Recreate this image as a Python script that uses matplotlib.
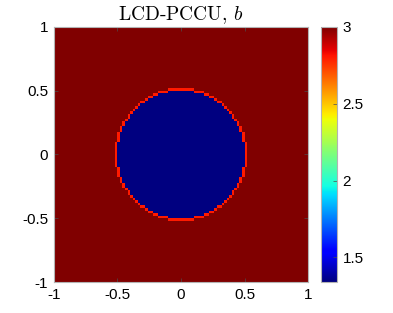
import numpy as np
import matplotlib
matplotlib.use('Agg')
import matplotlib.pyplot as plt

# field parameters
n_cells = 100
radius = 0.5
b_inside = 1.34
b_outside = 3.0
b_edge = 2.8
x_ticks = [-1, -0.5, 0, 0.5, 1]
y_ticks = [-1, -0.5, 0, 0.5, 1]
cbar_ticks = [1.5, 2, 2.5, 3]
cbar_labels = ['1.5', '2', '2.5', '3']

edges = np.linspace(-1, 1, n_cells + 1)
centers = 0.5 * (edges[:-1] + edges[1:])
X, Y = np.meshgrid(centers, centers)
inside = np.hypot(X, Y) < radius

# one-cell ring just outside the disc
ring = np.zeros_like(inside)
ring[1:, :] |= inside[:-1, :]
ring[:-1, :] |= inside[1:, :]
ring[:, 1:] |= inside[:, :-1]
ring[:, :-1] |= inside[:, 1:]
ring &= ~inside

b = np.full(X.shape, b_outside)
b[ring] = b_edge
b[inside] = b_inside

plt.rcParams['font.family'] = ['Liberation Sans', 'DejaVu Sans']
plt.rcParams['mathtext.fontset'] = 'cm'

fig = plt.figure(figsize=(3.93, 3.13), dpi=100)
ax = fig.add_axes([0.137, 0.099, 0.647, 0.815])
mesh = ax.pcolormesh(edges, edges, b, cmap='jet', vmin=b_inside, vmax=b_outside,
                     shading='flat', rasterized=True)
ax.set_xlim(-1, 1)
ax.set_ylim(-1, 1)
ax.set_xticks(x_ticks)
ax.set_yticks(y_ticks)
ax.set_xticklabels(['-1', '-0.5', '0', '0.5', '1'])
ax.set_yticklabels(['-1', '-0.5', '0', '0.5', '1'])
ax.tick_params(direction='in', length=3, width=0.5, labelsize=11, color='0.3',
               top=True, right=True, pad=4)
for s in ax.spines.values():
    s.set_color('0.7')
    s.set_linewidth(0.8)
ax.set_title('LCD-PCCU, $b$', fontfamily='cmr10', fontsize=14, pad=5)

cax = fig.add_axes([0.817, 0.099, 0.041, 0.815])
cb = fig.colorbar(mesh, cax=cax, ticks=cbar_ticks)
cb.ax.set_yticklabels(cbar_labels)
cb.ax.tick_params(direction='in', length=3, width=0.5, labelsize=11, color='0.3', pad=4)
cb.outline.set_edgecolor('0.7')
cb.outline.set_linewidth(0.8)

fig.savefig('out.png', dpi=100)
